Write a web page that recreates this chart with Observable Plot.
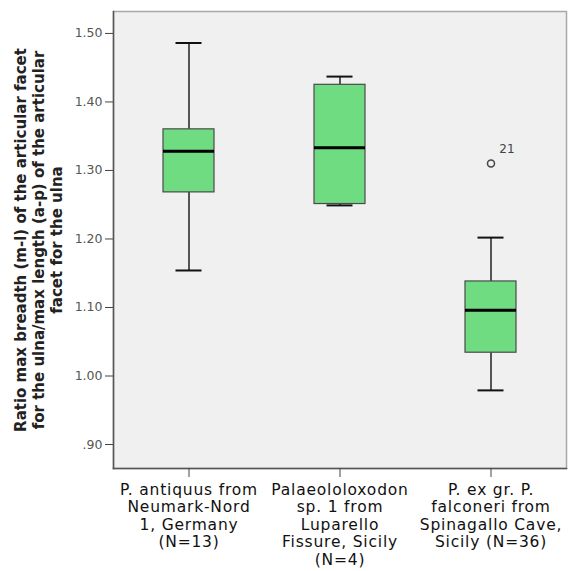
<!DOCTYPE html>
<html><head><meta charset="utf-8">
<script src="https://cdn.jsdelivr.net/npm/d3@7"></script>
<script src="https://cdn.jsdelivr.net/npm/@observablehq/plot@0.6"></script>
<style>
body{margin:0;background:#fff}
g[aria-label="x-axis tick label"] text{letter-spacing:0.8px}
</style>
</head><body><div id="chart"></div>
<script>
const categories = ["antiquus", "sp1", "falconeri"];
const categoryLabels = [
  "P. antiquus from\nNeumark-Nord\n1, Germany\n(N=13)",
  "Palaeololoxodon\nsp. 1 from\nLuparello\nFissure, Sicily\n(N=4)",
  "P. ex gr. P.\nfalconeri from\nSpinagallo Cave,\nSicily (N=36)"
];
const whiskerLow  = [1.154, 1.249, 0.979];
const q1          = [1.268, 1.251, 1.034];
const median      = [1.328, 1.333, 1.096];
const q3          = [1.360, 1.425, 1.138];
const whiskerHigh = [1.486, 1.437, 1.202];
const outlierGroup = ["falconeri"];
const outlierValue = [1.310];
const outlierLabel = ["21"];
const yTicks = [0.9, 1.0, 1.1, 1.2, 1.3, 1.4, 1.5];
const yDomain = [0.865, 1.532];
const yTitle = "Ratio max breadth (m-l) of the articular facet\nfor the ulna/max length (a-p) of the articular\nfacet for the ulna";

const boxes = categories.map((c, i) => ({
  cat: c, lo: whiskerLow[i], q1: q1[i], med: median[i], q3: q3[i], hi: whiskerHigh[i]
}));
const outliers = outlierGroup.map((c, i) => ({cat: c, v: outlierValue[i], label: outlierLabel[i]}));
const labelOf = Object.fromEntries(categories.map((c, i) => [c, categoryLabels[i]]));
const fmt = d => d < 1 ? d.toFixed(2).replace(/^0/, "") : d.toFixed(2);

const chart = Plot.plot({
  width: 568,
  height: 571,
  marginLeft: 113,
  marginTop: 11,
  marginRight: 2,
  marginBottom: 103,
  style: {fontFamily: "DejaVu Sans, sans-serif", fontSize: "12px", background: "#fff"},
  x: {domain: categories, paddingInner: 0.66, paddingOuter: 0.33},
  y: {domain: yDomain},
  marks: [
    Plot.frame({fill: "#f0f0f0", stroke: "#a8a8a8", strokeWidth: 1.5}),
    Plot.frame({anchor: "left", stroke: "#555", strokeWidth: 1.5}),
    Plot.frame({anchor: "bottom", stroke: "#555", strokeWidth: 1.5}),
    Plot.axisY({ticks: yTicks, tickFormat: fmt, tickSize: 8, tickPadding: 3, fontSize: 12.5, color: "#555", stroke: "#444", label: null}),
    Plot.axisX({tickFormat: d => labelOf[d], tickSize: 9, tickPadding: 5, fontSize: 15.5, lineHeight: 1.13, color: "#111", stroke: "#444", label: null}),
    Plot.ruleX(boxes, {x: "cat", y1: "lo", y2: "q1", stroke: "#222", strokeWidth: 1.5}),
    Plot.ruleX(boxes, {x: "cat", y1: "q3", y2: "hi", stroke: "#222", strokeWidth: 1.5}),
    Plot.tickY(boxes, {x: "cat", y: "lo", stroke: "#111", strokeWidth: 2, insetLeft: 12.5, insetRight: 12.5}),
    Plot.tickY(boxes, {x: "cat", y: "hi", stroke: "#111", strokeWidth: 2, insetLeft: 12.5, insetRight: 12.5}),
    Plot.barY(boxes, {x: "cat", y1: "q1", y2: "q3", fill: "#6fdc82", stroke: "#4a4a4a", strokeWidth: 1.2}),
    Plot.tickY(boxes, {x: "cat", y: "med", stroke: "#000", strokeWidth: 3}),
    Plot.dot(outliers, {x: "cat", y: "v", r: 3.5, stroke: "#444", strokeWidth: 1.5, fill: "none"}),
    Plot.text(outliers, {x: "cat", y: "v", text: "label", dx: 16, dy: -14, fontSize: 12, fill: "#444"}),
    Plot.text([yTitle], {frameAnchor: "left", rotate: -90, dx: -75, text: d => d, fontSize: 15, fontWeight: "bold", fill: "#222", lineHeight: 1.2, textAnchor: "middle"})
  ]
});
document.getElementById("chart").append(chart);
</script>
</body></html>
